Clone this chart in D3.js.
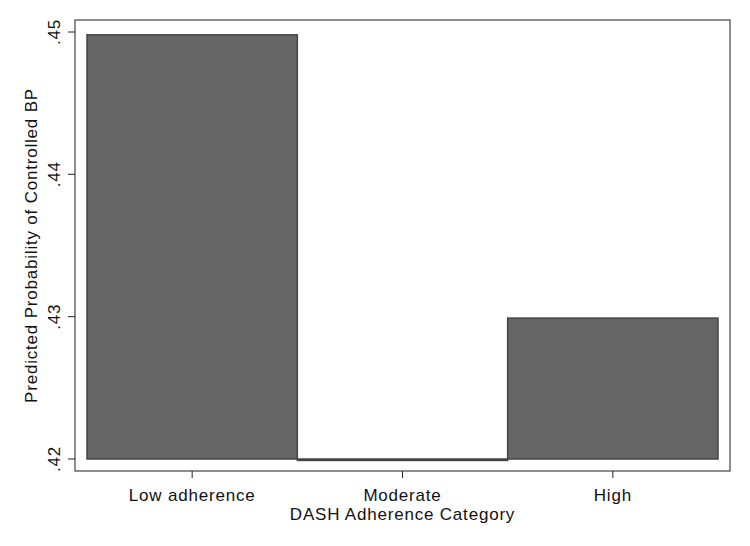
<!DOCTYPE html>
<html>
<head>
<meta charset="utf-8">
<script src="https://cdn.jsdelivr.net/npm/d3@7"></script>
<style>
  body { margin: 0; background: #fff; }
  text { font-family: "Liberation Sans", Arial, sans-serif; fill: #111; }
</style>
</head>
<body>
<svg id="chart"></svg>
<script>
const categories = ["Low adherence", "Moderate", "High"];
const values = [0.4498, 0.4199, 0.4299];
const yTicks = [0.42, 0.43, 0.44, 0.45];
const tickLabels = [".42", ".43", ".44", ".45"];

const width = 750, height = 546;
const plot = { left: 75, top: 20, right: 730, bottom: 471 };
const fontSize = "17px";
const spacing = "0.8px";

const svg = d3.select("#chart")
    .attr("width", width)
    .attr("height", height);

const x = d3.scaleBand()
    .domain(categories)
    .range([87, 718])
    .padding(0);

const y = d3.scaleLinear()
    .domain([0.42, 0.45])
    .range([459, 32]);

// bars, drawn from the .42 base
svg.append("g")
    .selectAll("rect")
    .data(categories)
    .enter().append("rect")
    .attr("x", d => x(d))
    .attr("width", x.bandwidth())
    .attr("y", (d, i) => Math.min(y(values[i]), y(0.42)))
    .attr("height", (d, i) => Math.abs(y(0.42) - y(values[i])))
    .style("fill", "#666666")
    .style("stroke", "#444444")
    .style("stroke-width", 1.5);

// plot region frame
svg.append("rect")
    .attr("x", plot.left)
    .attr("y", plot.top)
    .attr("width", plot.right - plot.left)
    .attr("height", plot.bottom - plot.top)
    .style("fill", "none")
    .style("stroke", "#444")
    .style("stroke-width", 1.2);

// y axis
const yAxis = svg.append("g")
    .attr("transform", `translate(${plot.left},0)`)
    .call(d3.axisLeft(y).tickValues(yTicks).tickFormat((d, i) => tickLabels[i]).tickSize(7).tickSizeOuter(0));
yAxis.select(".domain").remove();
yAxis.selectAll("line").style("stroke", "#222");
yAxis.selectAll("text")
    .attr("transform", d => `translate(-15,${y(d)}) rotate(-90)`)
    .attr("x", 0).attr("y", 0).attr("dy", 0)
    .style("text-anchor", "middle")
    .style("font-size", fontSize)
    .style("letter-spacing", spacing)
    .style("font-family", "'Liberation Sans', Arial, sans-serif")
    .attr("fill", "#111");
yAxis.selectAll(".tick").attr("transform", null);
yAxis.selectAll(".tick line")
    .attr("y1", d => y(d)).attr("y2", d => y(d));

// x axis
const xAxis = svg.append("g")
    .attr("transform", `translate(0,${plot.bottom})`)
    .call(d3.axisBottom(x).tickSize(7).tickSizeOuter(0));
xAxis.select(".domain").remove();
xAxis.selectAll("line").style("stroke", "#222");
xAxis.selectAll("text")
    .attr("y", 30)
    .attr("dy", 0)
    .style("font-size", fontSize)
    .style("letter-spacing", spacing)
    .style("font-family", "'Liberation Sans', Arial, sans-serif")
    .attr("fill", "#111");

// axis titles
svg.append("text")
    .attr("x", (plot.left + plot.right) / 2)
    .attr("y", 520)
    .attr("text-anchor", "middle")
    .style("font-size", fontSize)
    .style("letter-spacing", spacing)
    .text("DASH Adherence Category");

svg.append("text")
    .attr("transform", `translate(37,${(plot.top + plot.bottom) / 2}) rotate(-90)`)
    .attr("text-anchor", "middle")
    .style("font-size", fontSize)
    .style("letter-spacing", spacing)
    .text("Predicted Probability of Controlled BP");
</script>
</body>
</html>
